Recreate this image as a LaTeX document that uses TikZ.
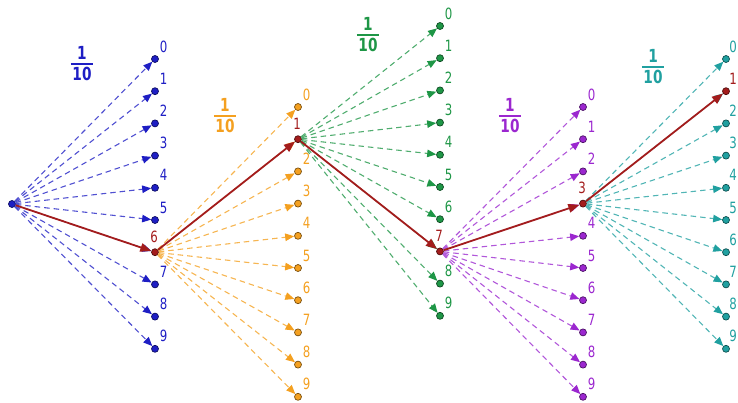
\documentclass[tikz,border=0pt]{standalone}
\usepackage{fontspec}
\setmainfont{DejaVu Sans}[FakeStretch=0.76]
\usepackage{graphicx}
\usetikzlibrary{arrows.meta}
\definecolor{cblue}{HTML}{1E1EC4}
\definecolor{corange}{HTML}{F4A020}
\definecolor{cgreen}{HTML}{1E9646}
\definecolor{cpurple}{HTML}{9B27CF}
\definecolor{cteal}{HTML}{20A0A0}
\definecolor{cred}{HTML}{A31C1C}
\newcommand\tenth{\vbox{\offinterlineskip\halign{\hfil\kern1.5pt##\kern1.5pt\hfil\cr 1\cr\noalign{\kern3pt\hrule height 1.7pt\kern3pt}10\cr}}}
\begin{document}
\begin{tikzpicture}[x=1pt,y=-1pt,
  dot/.style={circle,fill=#1,draw=#1!50!black,line width=0.7pt,minimum size=7pt,inner sep=0pt},
  lab/.style={text=#1,font=\fontsize{15.5}{15.5}\selectfont,inner sep=0pt},
  fraclab/.style={text=#1,font=\bfseries\fontsize{18}{18}\selectfont,inner sep=0pt},
  fan/.style={draw=#1!78!white,line width=1.1pt,dash pattern=on 5.5pt off 4pt,-{Triangle[length=9pt,width=7.5pt,color=#1]}},
  chosen/.style={draw=cred,line width=1.8pt,-{Triangle[length=11pt,width=8.5pt]}}]
\useasboundingbox (0,0) rectangle (738,402);

% fractions
\node[fraclab=cblue]   (fb) at (82,64)  {\tenth};
\node[fraclab=corange] (fo) at (225,116) {\tenth};
\node[fraclab=cgreen]  (fg) at (368,35)  {\tenth};
\node[fraclab=cpurple] (fp) at (510,116) {\tenth};
\node[fraclab=cteal]   (ft) at (653,67)  {\tenth};

% start
\node[dot=cblue] (s) at (12,204) {};

% blue fan
\foreach \i in {0,1,2,3,4,5,7,8,9}{
  \node[dot=cblue] (b\i) at (155,{59+32.2*\i}) {};
  \node[lab=cblue] (lb\i) at (163.5,{59+32.2*\i-12.5}) {\i};
}
\node[dot=cred] (b6) at (155,{59+32.2*6}) {};
\node[lab=cred] (lb6) at (154,{59+32.2*6-15.5}) {6};

% orange fan
\foreach \i in {0,2,3,4,5,6,7,8,9}{
  \node[dot=corange] (o\i) at (298,{107+32.2*\i}) {};
  \node[lab=corange] (lo\i) at (306.5,{107+32.2*\i-12.5}) {\i};
}
\node[dot=cred] (o1) at (298,{107+32.2*1}) {};
\node[lab=cred] (lo1) at (297,{107+32.2*1-15.5}) {1};

% green fan
\foreach \i in {0,1,2,3,4,5,6,8,9}{
  \node[dot=cgreen] (g\i) at (440,{26+32.2*\i}) {};
  \node[lab=cgreen] (lg\i) at (448.5,{26+32.2*\i-12.5}) {\i};
}
\node[dot=cred] (g7) at (440,{26+32.2*7}) {};
\node[lab=cred] (lg7) at (439,{26+32.2*7-15.5}) {7};

% purple fan
\foreach \i in {0,1,2,4,5,6,7,8,9}{
  \node[dot=cpurple] (p\i) at (583,{107+32.2*\i}) {};
  \node[lab=cpurple] (lp\i) at (591.5,{107+32.2*\i-12.5}) {\i};
}
\node[dot=cred] (p3) at (583,{107+32.2*3}) {};
\node[lab=cred] (lp3) at (582,{107+32.2*3-15.5}) {3};

% teal fan
\foreach \i in {0,2,3,4,5,6,7,8,9}{
  \node[dot=cteal] (t\i) at (726,{59+32.2*\i}) {};
  \node[lab=cteal] (lt\i) at (733,{59+32.2*\i-12.5}) {\i};
}
\node[dot=cred] (t1) at (726,{59+32.2*1}) {};
\node[lab=cred] (lt1) at (733,{59+32.2*1-12.5}) {1};

% dashed fans
\foreach \i in {0,...,9}{
  \draw[fan=cblue]   (s)  -- (b\i);
  \draw[fan=corange] (b6) -- (o\i);
  \draw[fan=cgreen]  (o1) -- (g\i);
  \draw[fan=cpurple] (g7) -- (p\i);
  \draw[fan=cteal]   (p3) -- (t\i);
}

% chosen path
\draw[chosen] (s)  -- (b6);
\draw[chosen] (b6) -- (o1);
\draw[chosen] (o1) -- (g7);
\draw[chosen] (g7) -- (p3);
\draw[chosen] (p3) -- (t1);
\end{tikzpicture}
\end{document}
